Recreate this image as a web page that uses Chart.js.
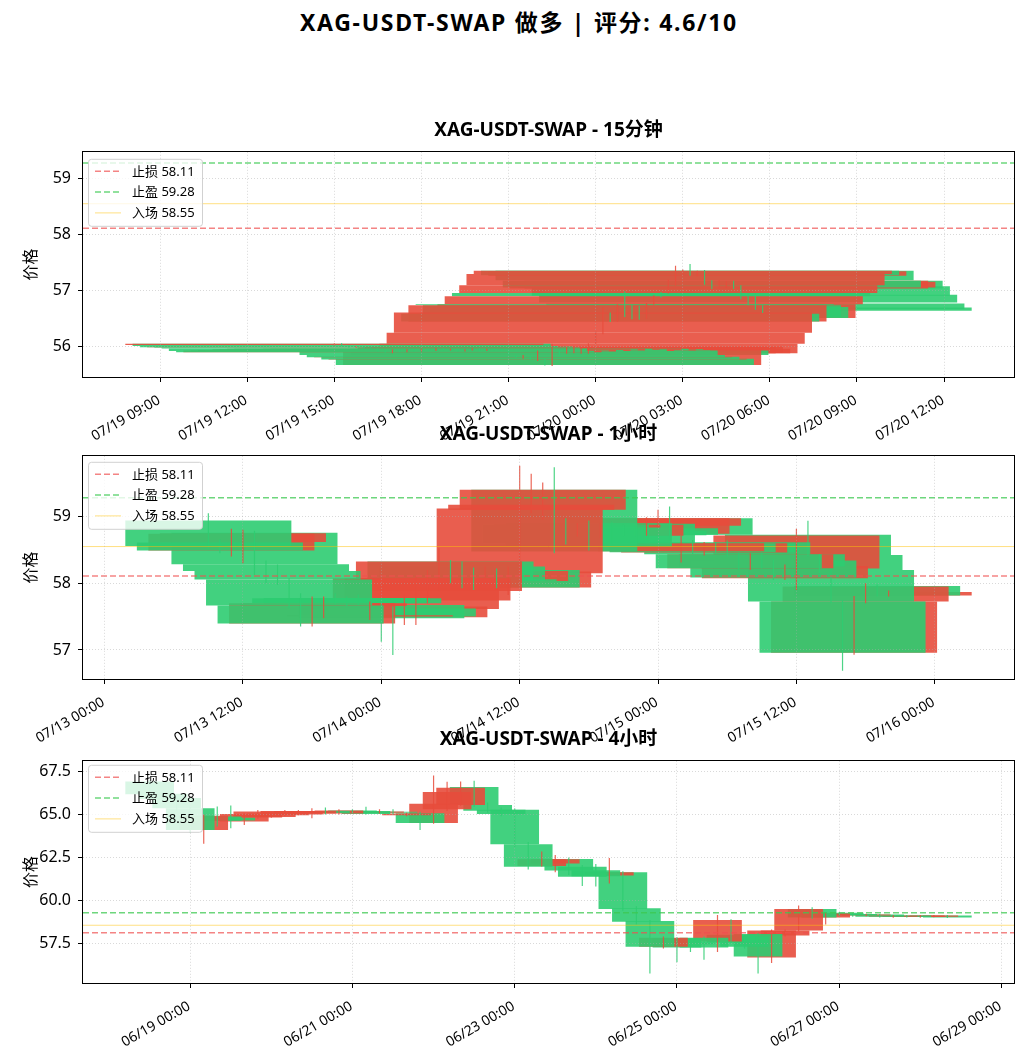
<!DOCTYPE html>
<html>
<head>
<meta charset="utf-8">
<script src="https://cdn.jsdelivr.net/npm/chart.js@4.4.1/dist/chart.umd.min.js"></script>
<style>
  body { margin: 0; background: #fff; }
  #wrap { position: relative; width: 1024px; height: 1058px; overflow: hidden; background: #fff; }
  #sup { position: absolute; left: 7px; top: 8px; width: 1024px; text-align: center;
         font: bold 23px 'Noto Sans', 'Noto Sans CJK SC', sans-serif; letter-spacing: 1.7px;
         line-height: 28px; color: #000; }
  canvas { position: absolute; left: 0; }
</style>
</head>
<body>
<div id="wrap">
  <div id="sup">XAG-USDT-SWAP 做多 | 评分: 4.6/10</div>
  <canvas id="c1" width="1024" height="328" style="top:119px"></canvas>
  <canvas id="c2" width="1024" height="326" style="top:423px"></canvas>
  <canvas id="c3" width="1024" height="325" style="top:728px"></canvas>
</div>
<script>
// ---------------- data ----------------
const levelNames  = ['止损', '止盈', '入场'];
const levelValues = [58.11, 59.28, 58.55];

// 15 minute candles
const m15Title = 'XAG-USDT-SWAP - 15分钟';
const m15Start = '07/19 15:00';
const m15StepHours = 0.25;
const m15Open = [56.02,56.04,56.00,55.98,55.99,55.975,55.955,55.91,55.89,55.92,
  55.90,55.93,55.91,55.94,55.92,55.95,55.93,55.94,55.91,55.93,
  55.95,55.92,55.94,55.93,55.92,55.84,55.80,55.81,55.76,55.77,
  55.66,55.92,55.87,55.88,55.87,55.87,56.04,56.24,56.58,56.44,
  56.75,56.73,56.70,56.50,56.75,56.95,56.95,57.09,57.29,57.35,
  57.26,57.35,57.17,57.03,57.05,57.17,57.07,56.92,56.76,56.69];
const m15Close = [56.04,56.00,55.98,55.99,55.975,55.955,55.91,55.89,55.92,55.90,
  55.93,55.91,55.94,55.92,55.95,55.93,55.94,55.91,55.93,55.95,
  55.92,55.94,55.93,55.92,55.84,55.80,55.81,55.76,55.77,55.66,
  55.94,55.84,55.98,55.99,55.95,56.04,56.24,56.60,56.44,56.73,
  56.735,56.52,56.50,56.75,56.89,56.89,57.09,57.29,57.35,57.27,
  57.34,57.18,57.05,57.17,57.15,57.03,56.90,56.78,56.66,56.63];
const m15High = [56.05,56.05,56.01,56.00,56.00,55.98,55.96,55.92,55.94,55.93,
  55.94,55.94,55.95,55.95,55.96,55.96,55.95,55.95,55.94,55.96,
  55.96,55.95,55.95,55.94,55.93,55.85,55.84,55.82,55.92,55.78,
  56.04,55.93,55.99,56.00,55.97,56.05,56.26,56.69,56.60,56.75,
  56.98,56.74,56.72,56.77,56.91,56.97,57.19,57.44,57.37,57.47,
  57.35,57.36,57.18,57.18,57.16,57.17,57.09,56.95,56.95,56.73];
const m15Low = [56.01,55.99,55.97,55.97,55.96,55.95,55.90,55.88,55.87,55.89,
  55.89,55.90,55.90,55.91,55.91,55.92,55.92,55.90,55.90,55.92,
  55.91,55.91,55.92,55.91,55.83,55.79,55.77,55.75,55.73,55.65,
  55.64,55.82,55.86,55.87,55.86,55.86,56.03,56.21,56.43,56.43,
  56.52,56.48,56.47,56.49,56.74,56.87,56.94,57.08,57.28,57.26,
  57.25,57.10,57.02,57.02,57.04,57.02,56.84,56.73,56.65,56.59];
const m15XTicks = ['07/19 09:00','07/19 12:00','07/19 15:00','07/19 18:00','07/19 21:00',
  '07/20 00:00','07/20 03:00','07/20 06:00','07/20 09:00','07/20 12:00'];
const m15YTicks = ['56','57','58','59'];
const m15YRange = [55.445, 59.48];

// 1 hour candles
const h1Title = 'XAG-USDT-SWAP - 1小时';
const h1Start = '07/13 09:00';
const h1StepHours = 1;
const h1Open = [58.94,58.61,58.49,58.62,58.755,58.285,58.185,58.055,57.665,57.395,
  57.66,57.775,57.78,57.775,57.50,57.675,57.62,57.49,57.615,57.74,
  57.885,58.325,58.25,58.06,58.035,58.20,57.935,58.15,59.10,59.10,
  59.40,58.875,58.835,58.90,58.71,58.89,58.785,58.825,58.74,58.86,
  58.975,58.48,58.60,58.46,58.585,58.615,58.435,58.225,58.435,58.34,
  58.075,58.22,58.725,58.425,58.20,57.725,56.96,57.725,57.96,57.815];
const h1Close = [58.56,58.49,58.74,58.75,58.285,58.185,58.055,57.665,57.395,57.70,
  57.70,57.70,57.70,57.70,57.52,57.475,57.50,57.65,58.075,58.075,
  58.325,58.035,58.035,58.035,58.185,57.935,58.175,59.12,59.175,59.40,
  58.475,58.60,58.875,58.55,58.875,58.60,58.72,58.725,58.975,58.975,
  58.725,58.60,58.465,58.60,58.47,58.435,58.225,58.435,58.25,58.085,
  58.26,58.715,58.425,58.20,57.725,56.96,57.725,57.95,57.815,57.87];
const h1High = [59.05,58.66,58.815,58.80,58.785,58.34,58.28,58.08,57.85,57.80,
  57.80,57.85,57.80,57.83,57.725,57.75,57.65,57.825,58.10,58.20,
  58.525,58.35,58.325,58.235,58.25,58.22,58.25,59.76,59.64,59.51,
  59.74,58.975,58.90,58.94,58.90,58.92,58.875,58.85,58.99,59.10,
  59.15,58.71,58.65,58.62,58.62,58.64,58.46,58.45,58.46,58.36,
  58.28,58.815,58.935,58.44,58.21,57.74,57.81,58.00,57.98,57.89];
const h1Low = [58.52,58.45,58.40,58.30,58.125,58.00,57.975,57.625,57.35,57.35,
  57.475,57.68,57.66,57.67,57.45,57.125,56.925,57.375,57.375,57.70,
  57.875,58.00,57.925,57.90,58.02,57.925,57.825,58.10,59.05,58.95,
  58.45,58.58,58.70,58.49,58.68,58.58,58.70,58.70,58.71,58.835,
  58.65,58.31,58.44,58.415,58.45,58.40,58.20,58.20,58.22,58.05,
  58.05,57.90,58.40,58.15,57.70,56.69,56.93,57.70,57.80,57.80];
const h1XTicks = ['07/13 00:00','07/13 12:00','07/14 00:00','07/14 12:00',
  '07/15 00:00','07/15 12:00','07/16 00:00'];
const h1YTicks = ['57','58','59'];
const h1YRange = [56.565, 59.91];

// 4 hour candles
const h4Title = 'XAG-USDT-SWAP - 4小时';
const h4Start = '06/18 12:00';
const h4StepHours = 4;
const h4Open = [66.92,66.20,65.95,65.36,64.10,64.88,64.80,64.59,64.82,64.85,
  64.95,65.00,65.05,65.20,65.06,65.23,65.20,65.10,65.15,64.95,
  65.07,64.50,65.30,65.55,66.60,65.55,65.27,65.27,63.26,62.00,
  62.15,62.41,61.96,61.75,61.44,61.63,59.54,58.80,57.30,57.80,
  57.55,57.83,57.60,58.00,57.90,58.04,56.67,57.95,58.24,59.50,
  59.00,59.28,59.20,59.12,59.18,59.05,59.12,59.03,59.05,59.12];
const h4Close = [66.18,65.90,65.36,64.10,64.92,64.63,64.65,65.03,65.17,65.05,
  65.20,65.20,65.20,65.08,65.23,65.12,65.03,65.17,65.10,65.05,
  64.50,65.62,66.30,66.55,65.55,65.22,65.02,63.26,61.96,62.39,
  62.39,61.73,61.38,61.40,61.63,59.50,58.76,57.30,57.83,57.25,
  57.45,57.25,58.86,57.55,57.30,56.73,58.24,58.24,59.49,59.00,
  59.24,59.15,59.12,59.18,59.05,59.10,59.03,59.12,59.12,59.00];
const h4High = [67.00,66.30,66.00,65.50,65.00,65.46,65.52,65.07,65.25,65.12,
  65.25,65.26,65.36,65.40,65.30,65.30,65.45,65.30,65.30,65.10,
  65.15,67.27,66.90,66.92,66.96,65.70,65.40,65.35,63.40,62.84,
  62.64,62.50,62.05,62.11,62.47,61.70,59.65,58.85,57.90,57.85,
  57.70,57.90,59.15,58.90,57.95,58.10,58.30,58.30,59.70,59.60,
  59.27,59.30,59.25,59.22,59.20,59.15,59.15,59.15,59.14,59.15];
const h4Low = [66.10,65.80,65.20,63.95,63.30,64.29,64.20,64.39,64.75,64.80,
  64.90,64.95,64.78,65.00,65.00,65.08,65.00,65.05,65.00,64.90,
  64.10,64.45,65.20,65.50,65.45,65.10,64.90,63.10,61.80,61.97,
  61.63,61.48,60.84,60.80,60.98,59.40,58.60,55.75,57.20,56.40,
  57.00,56.55,57.00,57.50,57.20,55.75,56.35,57.90,58.20,58.93,
  58.60,59.10,59.05,59.08,59.00,58.98,59.00,58.98,59.02,58.97];
const h4XTicks = ['06/19 00:00','06/21 00:00','06/23 00:00','06/25 00:00','06/27 00:00','06/29 00:00'];
const h4YTicks = ['57.5','60.0','62.5','65.0','67.5'];
const h4YRange = [55.19, 68.12];

// ---------------- styles ----------------
const FONT = "'Noto Sans', 'Noto Sans CJK SC', sans-serif";
const UP = 'rgba(231,76,60,0.9)';
const DN = 'rgba(46,204,113,0.9)';
const WICK_UP = 'rgba(231,76,60,0.85)';
const WICK_DN = 'rgba(46,204,113,0.85)';
const LEVEL_COLORS = ['rgba(240,80,80,0.7)', 'rgba(60,200,80,0.75)', 'rgba(255,193,7,0.5)'];
const LEVEL_WIDTHS = [1.5, 1.5, 1];
const LEVEL_DASH = [[6, 3], [6, 3], []];
const GRID = 'rgba(170,170,170,0.45)';
const BAR_HOURS = 14.4;   // body width: 0.6 day

Chart.defaults.font.family = FONT;
Chart.defaults.color = '#000';

function hoursOf(label) {
  const [md, hm] = label.split(' ');
  const [mo, d] = md.split('/').map(Number);
  const [h, mi] = hm.split(':').map(Number);
  return Date.UTC(2025, mo - 1, d, h, mi) / 3600000;
}

const framePlugin = {
  id: 'frame',
  afterDraw(chart) {
    const { ctx, chartArea: a } = chart;
    const l = Math.round(a.left), t = Math.round(a.top), r = Math.round(a.right), b = Math.round(a.bottom);
    ctx.save();
    ctx.strokeStyle = '#000';
    ctx.lineWidth = 1;
    ctx.strokeRect(l - 0.5, t - 0.5, r - l + 1, b - t + 1);
    ctx.restore();
  }
};

const legendPlugin = {
  id: 'mplLegend',
  afterDraw(chart, args, opts) {
    const { ctx, chartArea } = chart;
    const x0 = chartArea.left + 5, y0 = chartArea.top + opts.offset;
    ctx.save();
    ctx.beginPath();
    ctx.roundRect(x0 + 0.5, y0 + 0.5, 114, 67, 3);
    ctx.fillStyle = 'rgba(255,255,255,0.8)';
    ctx.fill();
    ctx.strokeStyle = 'rgba(204,204,204,0.9)';
    ctx.lineWidth = 1;
    ctx.stroke();
    levelNames.forEach((name, k) => {
      const y = y0 + 12.5 + k * 20.8;
      ctx.beginPath();
      ctx.setLineDash(LEVEL_DASH[k]);
      ctx.strokeStyle = LEVEL_COLORS[k];
      ctx.lineWidth = LEVEL_WIDTHS[k];
      ctx.moveTo(x0 + 7, y);
      ctx.lineTo(x0 + 33, y);
      ctx.stroke();
      ctx.setLineDash([]);
      ctx.fillStyle = '#000';
      ctx.font = '13px ' + FONT;
      ctx.textBaseline = 'middle';
      ctx.textAlign = 'left';
      ctx.fillText(name + ' ' + levelValues[k].toFixed(2), x0 + 44, y + 0.5);
    });
    ctx.restore();
  }
};

function buildChart(id, p) {
  const n = p.open.length;
  const t0 = hoursOf(p.start);
  const span = (n - 1) * p.step + BAR_HOURS;
  const xMin = t0 - BAR_HOURS / 2 - 0.05 * span;
  const xMax = t0 + (n - 1) * p.step + BAR_HOURS / 2 + 0.05 * span;
  const xTickVals = p.xTicks.map(hoursOf);
  const yTickVals = p.yTicks.map(Number);

  // newest first: older candles end up drawn on top
  const bodies = [], wicks = [];
  for (let i = n - 1; i >= 0; i--) {
    const x = t0 + i * p.step;
    const up = p.close[i] > p.open[i];
    bodies.push({ x, y: [p.open[i], p.close[i]], up });
    wicks.push({ x, y: [p.low[i], p.high[i]], up });
  }

  const lineSets = levelValues.map((v, k) => ({
    type: 'line',
    data: [{ x: xMin, y: v }, { x: xMax, y: v }],
    borderColor: LEVEL_COLORS[k], borderWidth: LEVEL_WIDTHS[k], borderDash: LEVEL_DASH[k],
    pointRadius: 0, pointHoverRadius: 0, fill: false, tension: 0, order: 0
  }));

  const gridOpts = { color: GRID, lineWidth: 1, drawTicks: true, tickLength: 5,
                     tickColor: '#000', tickWidth: 1, offset: false, z: 1 };

  return new Chart(document.getElementById(id), {
    type: 'bar',
    data: {
      datasets: [
        ...lineSets,
        { type: 'bar', data: wicks, order: 1, grouped: false, categoryPercentage: 1, barPercentage: 1,
          maxBarThickness: 1.2, borderWidth: 0, inflateAmount: 0,
          backgroundColor: c => (c.raw && c.raw.up) ? WICK_UP : WICK_DN },
        { type: 'bar', data: bodies, order: 2, grouped: false, categoryPercentage: 1,
          barPercentage: BAR_HOURS / p.step, borderWidth: 0, inflateAmount: 0,
          backgroundColor: c => (c.raw && c.raw.up) ? UP : DN }
      ]
    },
    options: {
      responsive: false,
      animation: false,
      events: [],
      layout: { padding: { left: 0, right: 10, top: 0, bottom: 0 } },
      plugins: {
        legend: { display: false },
        tooltip: { enabled: false },
        title: { display: true, text: p.title, color: '#000', fullSize: false,
                 font: { size: 19, weight: 'bold', family: FONT, lineHeight: 1.2 },
                 padding: { top: 0, bottom: 10 } },
        mplLegend: { offset: p.legendOffset }
      },
      scales: {
        x: {
          type: 'linear', min: xMin, max: xMax, offset: false, bounds: 'data',
          grid: gridOpts,
          border: { display: false, dash: [1, 2] },
          ticks: { autoSkip: false, maxRotation: 30, minRotation: 30, padding: 10, labelOffset: -1,
                   font: { size: 14, family: FONT }, color: '#000',
                   callback: (v, i) => p.xTicks[i] },
          afterBuildTicks: s => { s.ticks = xTickVals.map(v => ({ value: v })); },
          afterFit: s => { s.height = 70; }
        },
        y: {
          type: 'linear', min: p.yRange[0], max: p.yRange[1], bounds: 'data',
          grid: gridOpts,
          border: { display: false, dash: [1, 2] },
          ticks: { padding: 7, font: { size: 16, family: FONT }, color: '#000',
                   callback: (v, i) => p.yTicks[i] },
          afterBuildTicks: s => { s.ticks = yTickVals.map(v => ({ value: v })); },
          afterFit: s => { s.width = 83; },
          title: { display: true, text: '价格', color: '#000',
                   font: { size: 16, family: FONT, lineHeight: 1.2 },
                   padding: { top: 22, bottom: 0 } }
        }
      }
    },
    plugins: [framePlugin, legendPlugin]
  });
}

buildChart('c1', { title: m15Title, start: m15Start, step: m15StepHours,
  open: m15Open, high: m15High, low: m15Low, close: m15Close,
  xTicks: m15XTicks, yTicks: m15YTicks, yRange: m15YRange, legendOffset: 7 });
buildChart('c2', { title: h1Title, start: h1Start, step: h1StepHours,
  open: h1Open, high: h1High, low: h1Low, close: h1Close,
  xTicks: h1XTicks, yTicks: h1YTicks, yRange: h1YRange, legendOffset: 6 });
buildChart('c3', { title: h4Title, start: h4Start, step: h4StepHours,
  open: h4Open, high: h4High, low: h4Low, close: h4Close,
  xTicks: h4XTicks, yTicks: h4YTicks, yRange: h4YRange, legendOffset: 4 });
</script>
</body>
</html>
